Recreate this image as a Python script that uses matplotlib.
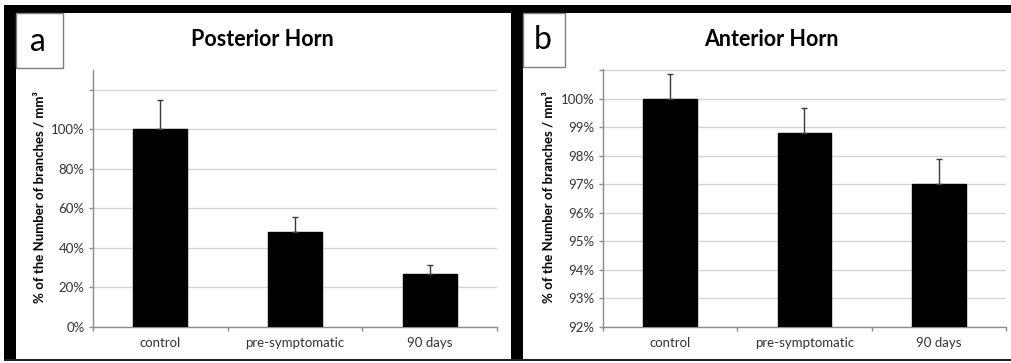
import matplotlib
matplotlib.use('Agg')
import matplotlib.pyplot as plt
from matplotlib.patches import Rectangle
from matplotlib.ticker import FixedLocator, FixedFormatter

plt.rcParams['font.family'] = ['Lato', 'DejaVu Sans']

categories = ['control', 'pre-symptomatic', '90 days']

posterior_values = [1.00, 0.48, 0.27]
posterior_err = [0.15, 0.075, 0.045]
posterior_ticks = [0, 0.2, 0.4, 0.6, 0.8, 1.0, 1.2]
posterior_labels = ['0%', '20%', '40%', '60%', '80%', '100%', '']

anterior_values = [100.0, 98.8, 97.0]
anterior_err = [0.88, 0.88, 0.88]
anterior_ticks = [92, 93, 94, 95, 96, 97, 98, 99, 100, 101]
anterior_labels = ['92%', '93%', '94%', '95%', '96%', '97%', '98%', '99%', '100%', '']

W, H = 1012, 363
fig = plt.figure(figsize=(W / 100, H / 100), dpi=100)
fig.patch.set_facecolor('white')


def px_rect(x0, y0, x1, y1, **kw):
    # pixel box (top-left origin) -> figure fraction rectangle
    return Rectangle((x0 / W, 1 - y1 / H), (x1 - x0) / W, (y1 - y0) / H,
                     transform=fig.transFigure, **kw)


def draw_panel(box, values, err, ticks, labels, ylim, title, title_x, ylabel_x):
    x0, y0, x1, y1 = box
    ax = fig.add_axes([x0 / W, 1 - y1 / H, (x1 - x0) / W, (y1 - y0) / H])
    pos = list(range(len(categories)))
    base = ylim[0]
    ax.bar(pos, [v - base for v in values], bottom=base, width=0.4, color='black',
           edgecolor='black', zorder=3)
    ax.errorbar(pos, values, yerr=[[0] * len(err), err], fmt='none', ecolor='#3a3a3a',
                elinewidth=1, capsize=2.5, capthick=1, zorder=4)
    ax.set_xlim(-0.5, len(categories) - 0.5)
    ax.set_ylim(*ylim)
    ax.yaxis.set_major_locator(FixedLocator(ticks))
    ax.yaxis.set_major_formatter(FixedFormatter(labels))
    ax.xaxis.set_major_locator(FixedLocator([p - 0.5 for p in pos] + [len(pos) - 0.5]))
    ax.xaxis.set_major_formatter(FixedFormatter([''] * (len(pos) + 1)))
    ax.xaxis.set_minor_locator(FixedLocator(pos))
    ax.xaxis.set_minor_formatter(FixedFormatter(categories))
    ax.tick_params(axis='x', which='minor', length=0, pad=7, labelsize=9.5, labelcolor='#333333')
    ax.tick_params(axis='x', which='major', length=3, color='#8c8c8c', width=1)
    ax.tick_params(axis='y', length=3, color='#8c8c8c', width=1, pad=3,
                   labelsize=9.5, labelcolor='#333333')
    ax.grid(axis='y', color='#d4d4d4', linewidth=1, zorder=0)
    for side in ('top', 'right'):
        ax.spines[side].set_visible(False)
    for side in ('left', 'bottom'):
        ax.spines[side].set_color('#8c8c8c')
        ax.spines[side].set_linewidth(1)
    ax.set_facecolor('none')
    fig.text(title_x / W, 1 - 39 / H, title, ha='center', va='center',
             fontsize=15.5, fontweight='bold')
    fig.text(ylabel_x / W, 1 - 197 / H, '% of the Number of branches / mm³',
             rotation=90, ha='center', va='center', fontsize=9.5, fontweight='bold')
    return ax


draw_panel((93, 70, 497, 327), posterior_values, posterior_err, posterior_ticks,
           posterior_labels, (0, 1.3), 'Posterior Horn', 262, 40)
draw_panel((603, 69, 1006, 327), anterior_values, anterior_err, anterior_ticks,
           anterior_labels, (92, 101.05), 'Anterior Horn', 771, 549)

# black frame
fig.patches.append(px_rect(4, 5, 1012, 13, facecolor='black', edgecolor='none'))
fig.patches.append(px_rect(4, 5, 16, 361, facecolor='black', edgecolor='none'))
fig.patches.append(px_rect(511, 5, 523, 361, facecolor='black', edgecolor='none'))
fig.patches.append(px_rect(4, 359, 1012, 361, facecolor='#222222', edgecolor='none'))

# panel letter boxes
fig.patches.append(px_rect(16, 13, 63, 68, facecolor='white', edgecolor='#7f7f7f', linewidth=1))
fig.patches.append(px_rect(523, 13, 565, 67, facecolor='white', edgecolor='#7f7f7f', linewidth=1))
fig.text(38 / W, 1 - 42 / H, 'a', ha='center', va='center', fontsize=23)
fig.text(543 / W, 1 - 40 / H, 'b', ha='center', va='center', fontsize=23)

fig.savefig('out.png', dpi=100)
